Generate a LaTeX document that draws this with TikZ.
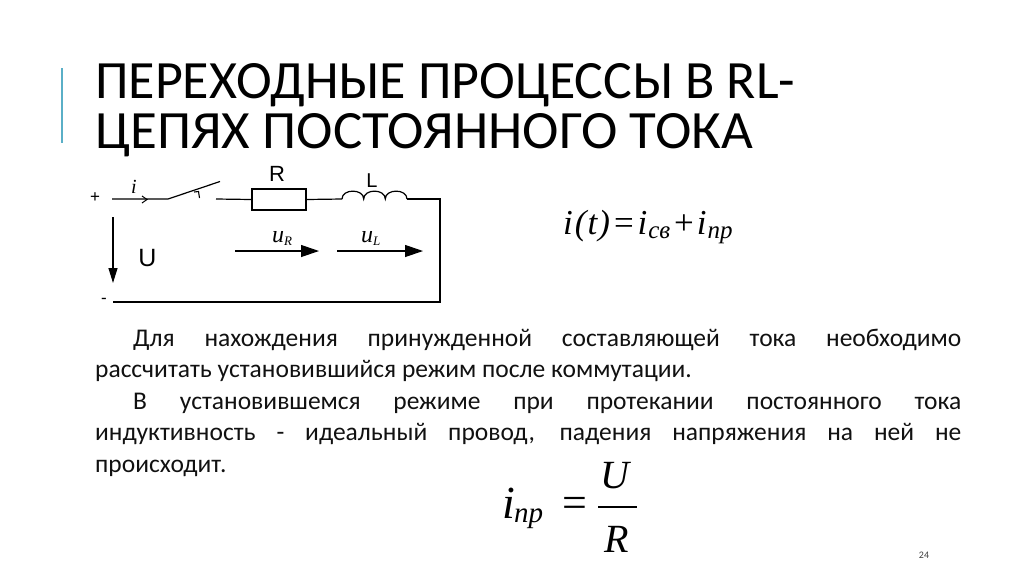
\documentclass[tikz,border=0pt]{standalone}
\usepackage{fontspec}
\usepackage{graphicx}
\setmainfont{Carlito}
\newfontfamily\tnr{Liberation Serif}
\newfontfamily\arl{Liberation Sans}
\usetikzlibrary{arrows.meta}
\definecolor{accent}{HTML}{5AAFC7}
\definecolor{bodytext}{HTML}{111111}
\begin{document}
\begin{tikzpicture}[x=1pt,y=-1pt,
  wire/.style={line width=1.2pt, line join=miter},
  varrow/.style={line width=1.2pt, -{Triangle[length=15pt,width=9pt]}},
  harrow/.style={line width=1.2pt, -{Triangle[length=18pt,width=12pt]}},
  lbl/.style={inner sep=0, font=\arl\fontsize{22}{22}\selectfont},
  ilbl/.style={inner sep=0, font=\tnr\itshape\fontsize{24}{24}\selectfont},
  formula/.style={inner sep=0, font=\tnr\itshape\fontsize{40}{40}\selectfont}]
\useasboundingbox[fill=white] (0,0) rectangle (1024,574);

% title
\draw[accent, line width=1.6pt] (62,68) -- (62,143);
\node[anchor=base west, inner sep=0] (t1) at (95,98)
  {\resizebox{700pt}{35pt}{\fontsize{50}{50}\selectfont ПЕРЕХОДНЫЕ ПРОЦЕССЫ В RL-}};
\node[anchor=base west, inner sep=0] (t2) at (95,148)
  {\resizebox{658pt}{35pt}{\fontsize{50}{50}\selectfont ЦЕПЯХ ПОСТОЯННОГО ТОКА}};

% circuit
\coordinate (a) at (112,199);
\coordinate (s1) at (168,199);
\coordinate (s2) at (220,181.5);
\coordinate (s3) at (216,199);
\node[draw, wire, minimum width=54pt, minimum height=21pt, inner sep=0] (res) at (279,199.5) {};
\coordinate (l1) at (342,199);
\coordinate (l2) at (407,199);
\coordinate (c1) at (440,199);
\coordinate (c2) at (440,302);
\coordinate (b) at (113,302);
\draw[wire] (a) -- (s1) -- (s2);
\draw[line width=1pt] (142,196) -- (147,199.5) -- (142,203);
\draw[line width=1.1pt] (194,192) -- (198.5,191.5) -- (199.5,198);
\draw[wire] (s3) -- (res.west);
\draw[wire] (res.east) -- (l1);
\draw[wire] (l1) .. controls (342,188.5) and (363.7,188.5) .. (363.7,199)
               .. controls (363.7,188.5) and (385.3,188.5) .. (385.3,199)
               .. controls (385.3,188.5) and (407,188.5) .. (l2);
\draw[wire] (l2) -- (c1) -- (c2) -- (b);

\node[lbl, font=\arl\fontsize{17}{17}\selectfont] (plus) at (95,198) {+};
\node[lbl, font=\arl\fontsize{17}{17}\selectfont] (minus) at (104,301) {-};
\node[ilbl, font=\tnr\itshape\fontsize{20}{20}\selectfont, anchor=base west] (ilab) at (131,193) {i};
\node[lbl, anchor=base] (rlab) at (277,181) {R};
\node[lbl, anchor=base, font=\arl\fontsize{20}{20}\selectfont] (llab) at (372,187) {L};
\node[lbl, anchor=base, font=\arl\fontsize{25}{25}\selectfont] (ulab) at (147.5,266) {U};

\coordinate (u1) at (113,217);
\coordinate (u2) at (113,283);
\draw[varrow] (u1) -- (u2);
\coordinate (r1) at (235,251);
\coordinate (r2) at (319,251);
\draw[harrow] (r1) -- (r2);
\coordinate (q1) at (337,251);
\coordinate (q2) at (423,251);
\draw[harrow] (q1) -- (q2);
\node[ilbl, anchor=base west] (ur) at (272,242) {u\raisebox{-3pt}{\fontsize{13}{13}\selectfont R}};
\node[ilbl, anchor=base west] (ul) at (361,242) {u\raisebox{-3pt}{\fontsize{13}{13}\selectfont L}};

% formula 1
\node[inner sep=0, anchor=base west, font=\tnr\itshape\fontsize{35}{35}\selectfont] (f1) at (563,234)
  {i\kern2pt(\kern1pt t\kern1pt)\kern2pt=\kern2pt i\kern1pt\raisebox{-4pt}{\fontsize{25}{25}\selectfont св}\kern1.5pt+\kern1.5pt i\kern1pt\raisebox{-4pt}{\fontsize{25}{25}\selectfont пр}};

% body text
\node[anchor=base west, inner sep=0, text width=866pt, align=justify, text=bodytext,
      font=\fontsize{25.5}{31.4}\selectfont] (body) at (95,346.5)
  {\hspace*{38pt}Для нахождения принужденной составляющей тока необходимо\linebreak
   рассчитать установившийся режим после коммутации.\par
   \hspace*{38pt}В установившемся режиме при протекании постоянного тока\linebreak
   индуктивность - идеальный провод, падения напряжения на ней не\linebreak
   происходит.};

% formula 2
\node[formula, anchor=base west, font=\tnr\itshape\fontsize{46}{46}\selectfont] (fi) at (502,518) {i};
\node[formula, anchor=base west, font=\tnr\itshape\fontsize{29}{29}\selectfont] (fsub) at (514,522) {пр};
\node[formula, font=\tnr\fontsize{44}{44}\selectfont] (feq) at (574.5,507.5) {=};
\coordinate (fb1) at (598,507);
\coordinate (fb2) at (637,507);
\draw[line width=1.4pt] (fb1) -- (fb2);
\node[formula, anchor=base] (fu) at (615,488) {U};
\node[formula, anchor=base] (fr) at (617,552) {R};

% page number
\node[inner sep=0, text=black!75, font=\fontsize{10}{10}\selectfont] (pg) at (924,555) {24};
\end{tikzpicture}
\end{document}
